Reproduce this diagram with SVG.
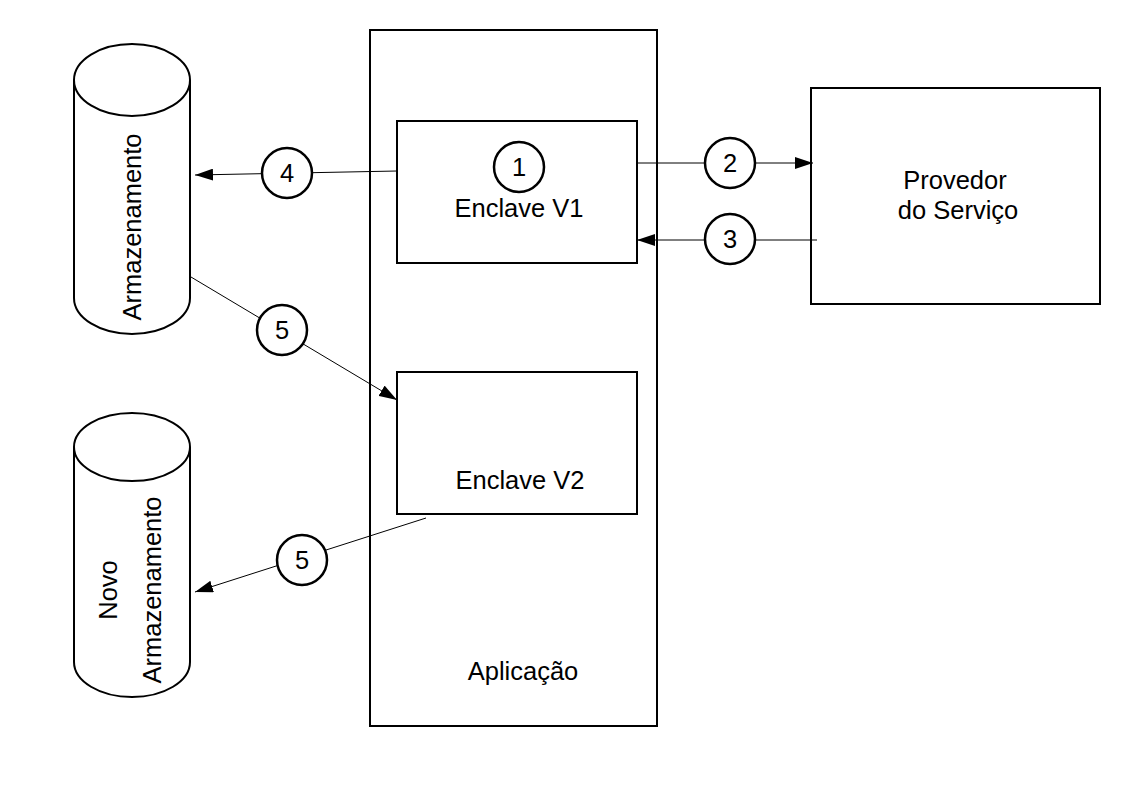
<svg xmlns="http://www.w3.org/2000/svg" width="1123" height="794" viewBox="0 0 1123 794">
<style>
.box{fill:#fff;stroke:#000;stroke-width:2}
.cyl{fill:#fff;stroke:#000;stroke-width:2}
.num{fill:#fff;stroke:#000;stroke-width:2.5}
.con{stroke:#000;stroke-width:1;fill:none}
text{font-family:"Liberation Sans",Arial,sans-serif;font-size:25.5px;fill:#000;text-anchor:middle}
</style>
<defs>
<marker id="ah" viewBox="0 0 18 12" refX="18" refY="6" markerWidth="18" markerHeight="12" markerUnits="userSpaceOnUse" orient="auto">
<path d="M0,0 L18,6 L0,12 Z" fill="#000"/>
</marker>
</defs>
<rect width="1123" height="794" fill="#fff"/>
<g id="aplicacao">
<rect class="box" x="370" y="30" width="287" height="696"/>
<text x="523" y="680">Aplicação</text>
</g>
<g id="armazenamento">
<path class="cyl" d="M74,80 A58,36 0 0 1 190,80 L190,298 A58,36 0 0 1 74,298 Z"/>
<path class="cyl" d="M74,80 A58,36 0 0 0 190,80"/>
<text transform="translate(141,227) rotate(-90)">Armazenamento</text>
</g>
<g id="novo-armazenamento">
<path class="cyl" d="M74,447 A58,34 0 0 1 190,447 L190,662 A58,35 0 0 1 74,662 Z"/>
<path class="cyl" d="M74,447 A58,34 0 0 0 190,447"/>
<text transform="translate(117,590) rotate(-90)">Novo</text>
<text transform="translate(161,590) rotate(-90)">Armazenamento</text>
</g>
<g id="enclave-v1">
<rect class="box" x="397" y="121" width="240" height="142"/>
<text x="519" y="217">Enclave V1</text>
</g>
<g id="enclave-v2">
<rect class="box" x="397" y="372" width="240" height="142"/>
<text x="520" y="489">Enclave V2</text>
</g>
<g id="provedor">
<rect class="box" x="811" y="88" width="289" height="216"/>
<text x="955" y="189">Provedor</text>
<text x="958" y="219">do Serviço</text>
</g>
<g id="connectors">
<line class="con" x1="397" y1="171" x2="195" y2="175" marker-end="url(#ah)"/>
<line class="con" x1="637" y1="163" x2="813" y2="163" marker-end="url(#ah)"/>
<line class="con" x1="817" y1="240" x2="637" y2="240" marker-end="url(#ah)"/>
<line class="con" x1="191" y1="277" x2="397" y2="400" marker-end="url(#ah)"/>
<line class="con" x1="426" y1="518" x2="195" y2="592" marker-end="url(#ah)"/>
</g>
<g id="label-1">
<circle class="num" cx="519" cy="167" r="25"/>
<text x="519" y="176">1</text>
</g>
<g id="label-2">
<circle class="num" cx="730" cy="163" r="25"/>
<text x="730" y="172">2</text>
</g>
<g id="label-3">
<circle class="num" cx="730" cy="239" r="25"/>
<text x="730" y="248">3</text>
</g>
<g id="label-4">
<circle class="num" cx="287" cy="173" r="25"/>
<text x="287" y="182">4</text>
</g>
<g id="label-5a">
<circle class="num" cx="282" cy="330" r="25"/>
<text x="282" y="339">5</text>
</g>
<g id="label-5b">
<circle class="num" cx="302" cy="560" r="25"/>
<text x="302" y="569">5</text>
</g>
</svg>
